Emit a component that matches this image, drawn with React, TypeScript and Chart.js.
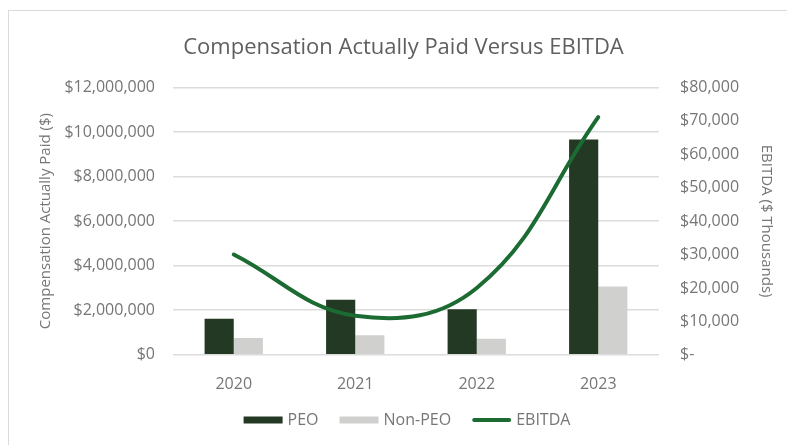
import React, { useEffect, useRef } from "react";
import { Chart, registerables } from "chart.js";

Chart.register(...registerables);

const categories = ["2020", "2021", "2022", "2023"];
const peoValues = [1620000, 2470000, 2040000, 9660000];
const nonPeoValues = [750000, 880000, 720000, 3070000];
const ebitdaValues = [30000, 11700, 20000, 71100];

const titleText = "Compensation Actually Paid Versus EBITDA";
const leftAxisTitle = "Compensation Actually Paid ($)";
const rightAxisTitle = "EBITDA ($ Thousands)";

const FONT = "'Open Sans', 'DejaVu Sans', sans-serif";
const TEXT = "#767676";
const PEO_COLOR = "#243923";
const NONPEO_COLOR = "#d0d1cf";
const LINE_COLOR = "#1b6b32";

const customLegend = {
  id: "customLegend",
  afterDraw(chart: any) {
    const ctx = chart.ctx;
    ctx.save();
    ctx.font = `16px ${FONT}`;
    ctx.textBaseline = "middle";
    const items = chart.data.datasets.map((ds: any) => ({
      text: ds.label,
      color: ds.type === "line" ? ds.borderColor : ds.backgroundColor,
      line: ds.type === "line",
      w: ctx.measureText(ds.label).width,
    }));
    const boxW = 39;
    const gapText = 5;
    const gapItem = 21;
    let total = 0;
    items.forEach((it: any, i: number) => {
      total += boxW + gapText + it.w + (i < items.length - 1 ? gapItem : 0);
    });
    let x = 407 - total / 2;
    const y = 420;
    items.forEach((it: any) => {
      if (it.line) {
        ctx.strokeStyle = it.color;
        ctx.lineWidth = 4;
        ctx.lineCap = "round";
        ctx.beginPath();
        ctx.moveTo(x + 2, y);
        ctx.lineTo(x + boxW - 2, y);
        ctx.stroke();
      } else {
        ctx.fillStyle = it.color;
        ctx.fillRect(x, y - 3.5, boxW, 7);
      }
      x += boxW + gapText;
      ctx.fillStyle = TEXT;
      ctx.fillText(it.text, x, y);
      x += it.w + gapItem;
    });
    ctx.restore();
  },
};

export default function App() {
  const canvasRef = useRef<HTMLCanvasElement | null>(null);

  useEffect(() => {
    if (!canvasRef.current) return;
    const chart = new Chart(canvasRef.current, {
      type: "bar",
      data: {
        labels: categories,
        datasets: [
          {
            type: "bar",
            label: "PEO",
            data: peoValues,
            backgroundColor: PEO_COLOR,
            yAxisID: "y",
            categoryPercentage: 0.48,
            barPercentage: 1,
            order: 1,
          },
          {
            type: "bar",
            label: "Non-PEO",
            data: nonPeoValues,
            backgroundColor: NONPEO_COLOR,
            yAxisID: "y",
            categoryPercentage: 0.48,
            barPercentage: 1,
            order: 1,
          },
          {
            type: "line",
            label: "EBITDA",
            data: ebitdaValues,
            borderColor: LINE_COLOR,
            backgroundColor: LINE_COLOR,
            borderWidth: 4,
            borderCapStyle: "round",
            tension: 0.4,
            pointRadius: 0,
            yAxisID: "y1",
            order: 0,
          },
        ],
      } as any,
      options: {
        animation: false,
        responsive: false,
        maintainAspectRatio: false,
        layout: { padding: { left: 30, right: 10, top: 0, bottom: 39 } },
        plugins: {
          legend: { display: false },
          tooltip: { enabled: false },
          title: {
            display: true,
            text: titleText,
            color: "#5f5f5f",
            font: { family: FONT, size: 22, weight: "normal" },
            padding: { top: 35, bottom: 26 },
          },
        },
        scales: {
          x: {
            grid: { display: false },
            border: { display: false },
            ticks: {
              color: TEXT,
              font: { family: FONT, size: 16 },
              padding: 12,
            },
          },
          y: {
            position: "left",
            min: 0,
            max: 12000000,
            afterFit: (s: any) => {
              s.width = 143;
            },
            grid: { color: "#dcdcdc", lineWidth: 1.5, drawTicks: false },
            border: { display: false },
            ticks: {
              stepSize: 2000000,
              color: TEXT,
              font: { family: FONT, size: 16 },
              padding: 18,
              callback: (v: any) => "$" + Number(v).toLocaleString("en-US"),
            },
            title: {
              display: true,
              text: leftAxisTitle,
              color: TEXT,
              font: { family: FONT, size: 15 },
              padding: { top: 7, bottom: 0 },
            },
          },
          y1: {
            position: "right",
            min: 0,
            max: 80000,
            afterFit: (s: any) => {
              s.width = 118;
            },
            grid: { display: false, drawTicks: false },
            border: { display: false },
            ticks: {
              stepSize: 10000,
              color: TEXT,
              font: { family: FONT, size: 16 },
              padding: 21,
              callback: (v: any) =>
                Number(v) === 0 ? "$-" : "$" + Number(v).toLocaleString("en-US"),
            },
            title: {
              display: true,
              text: rightAxisTitle,
              color: TEXT,
              font: { family: FONT, size: 15 },
              padding: { top: 2, bottom: 0 },
            },
          },
        },
      },
      plugins: [customLegend],
    } as any);
    return () => chart.destroy();
  }, []);

  return (
    <div
      style={{
        position: "fixed",
        left: 0,
        top: 0,
        width: 787,
        height: 445,
        background: "#ffffff",
        overflow: "hidden",
      }}
    >
      <div
        style={{
          position: "absolute",
          left: 8,
          top: 10,
          width: 800,
          height: 450,
          borderLeft: "1.5px solid #dadada",
          borderTop: "1.5px solid #dadada",
        }}
      />
      <canvas
        ref={canvasRef}
        width={787}
        height={445}
        style={{ position: "absolute", left: 0, top: 0, width: 787, height: 445 }}
      />
    </div>
  );
}
